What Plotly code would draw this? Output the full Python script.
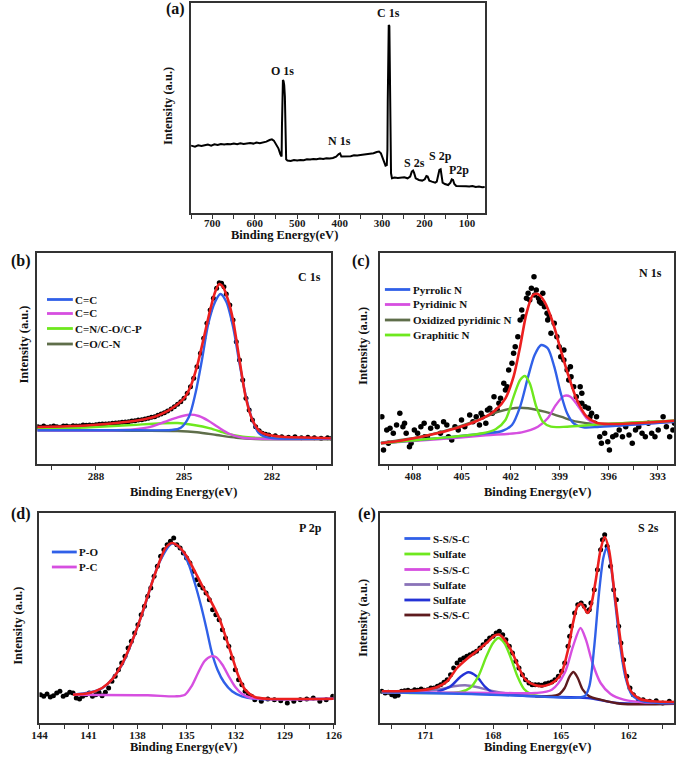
import plotly.graph_objects as go

W, H = 685, 762
SERIF = "Liberation Serif"

# ---------------- (a) survey spectrum: (binding energy, intensity) ----------------
survey = [
    (750.0, 67.7), (740.8, 66.7), (733.2, 68.0), (725.5, 67.3), (717.9, 68.0), (710.2, 68.7),
    (702.6, 67.7), (695.0, 69.0), (687.3, 68.3), (679.7, 69.3), (672.0, 68.7), (664.4, 69.3),
    (656.7, 69.0), (649.1, 69.7), (641.4, 69.0), (633.8, 70.0), (626.1, 69.3), (618.5, 70.0),
    (610.9, 70.3), (603.2, 69.7), (595.6, 70.7), (587.9, 70.0), (580.3, 70.7), (572.6, 71.7),
    (565.0, 73.3), (559.6, 74.0), (555.0, 72.7), (549.7, 69.3), (544.3, 65.0), (539.8, 59.3),
    (536.7, 56.7), (535.9, 86.7), (535.2, 130.0), (533.6, 133.3), (532.1, 132.3), (530.6, 128.3),
    (529.0, 116.7), (528.3, 103.3), (527.5, 73.3), (526.0, 54.0), (522.9, 52.7), (515.3, 52.3),
    (507.6, 53.3), (500.0, 52.7), (492.4, 53.3), (484.7, 53.0), (477.1, 54.0), (469.4, 53.7),
    (461.8, 54.3), (454.1, 54.0), (446.5, 54.7), (438.8, 54.3), (431.2, 55.0), (423.5, 54.7),
    (415.9, 55.3), (408.3, 56.7), (402.1, 59.3), (399.1, 60.0), (396.0, 56.7), (389.1, 56.7),
    (381.5, 57.3), (373.9, 57.0), (366.2, 58.0), (358.6, 57.7), (350.9, 58.3), (343.3, 58.7),
    (335.6, 59.0), (328.0, 59.3), (320.3, 60.0), (312.7, 61.3), (307.3, 61.7), (302.8, 60.0),
    (298.9, 55.0), (295.1, 50.0), (292.0, 47.7), (289.0, 48.3), (287.5, 63.3), (286.7, 113.3),
    (285.9, 163.3), (285.2, 183.3), (284.4, 188.3), (282.9, 187.3), (282.1, 146.7), (281.3, 96.7),
    (280.6, 53.3), (279.0, 40.0), (276.8, 35.0), (270.6, 35.7), (263.0, 35.3), (255.4, 35.3),
    (247.7, 36.0), (240.1, 35.0), (233.9, 36.7), (230.1, 41.7), (227.1, 42.7), (224.8, 40.7),
    (220.9, 35.0), (213.3, 33.3), (205.7, 32.7), (199.5, 34.0), (195.7, 37.3), (192.7, 36.7),
    (188.8, 32.7), (182.7, 31.7), (175.1, 30.7), (171.3, 31.7), (168.2, 36.7), (165.1, 43.3),
    (162.1, 44.0), (159.8, 38.3), (157.5, 30.7), (152.1, 29.3), (144.5, 28.3), (139.1, 30.7),
    (136.0, 34.0), (133.0, 33.3), (129.9, 29.3), (125.4, 27.3), (117.7, 27.3), (110.1, 27.7),
    (102.4, 27.0), (94.8, 26.7), (87.2, 27.3), (79.5, 26.3), (71.9, 26.7), (64.2, 26.0), (58.1, 26.3),
]

# ---------------- (b) C 1s ----------------
c1s_data = [
    (289.98, 37.3), (289.89, 36.7), (289.78, 38.0), (289.67, 36.7), (289.56, 37.3), (289.44, 38.0),
    (289.33, 37.3), (289.22, 36.7), (289.11, 38.0), (289.00, 38.0), (288.89, 37.3), (288.78, 38.3),
    (288.67, 38.0), (288.56, 38.0), (288.44, 39.0), (288.33, 38.7), (288.22, 39.0), (288.11, 38.7),
    (288.00, 39.3), (287.89, 39.7), (287.78, 40.0), (287.67, 40.0), (287.56, 40.3), (287.44, 40.7),
    (287.33, 41.0), (287.22, 41.3), (287.11, 41.7), (287.00, 42.0), (286.89, 42.3), (286.78, 43.0),
    (286.67, 43.3), (286.56, 44.0), (286.44, 44.3), (286.33, 45.0), (286.22, 45.7), (286.11, 46.7),
    (286.00, 47.3), (285.89, 48.7), (285.78, 50.0), (285.67, 51.3), (285.56, 53.0), (285.44, 55.0),
    (285.33, 57.3), (285.22, 59.7), (285.11, 62.3), (285.00, 65.7), (284.89, 70.7), (284.78, 77.3),
    (284.67, 85.7), (284.56, 97.3), (284.44, 110.7), (284.33, 125.7), (284.22, 140.7), (284.11, 154.0),
    (284.00, 165.7), (283.89, 175.7), (283.80, 181.3), (283.72, 180.7), (283.64, 177.3), (283.56, 170.0),
    (283.44, 159.0), (283.33, 144.0), (283.22, 122.3), (283.11, 104.0), (283.00, 84.0), (282.89, 65.7),
    (282.78, 54.0), (282.67, 44.0), (282.56, 37.3), (282.44, 33.3), (282.33, 30.7), (282.22, 29.7),
    (282.11, 29.0), (281.89, 28.3), (281.67, 27.3), (281.44, 26.7), (281.22, 27.3), (281.00, 26.3),
    (280.78, 26.7), (280.56, 26.3), (280.33, 25.7), (280.11, 26.3), (279.97, 25.7),
]
c1s_fit = [
    (290.0, 37.0), (289.0, 37.7), (288.0, 39.3), (287.0, 42.0), (286.5, 44.0), (286.0, 47.3),
    (285.67, 51.3), (285.33, 57.3), (285.0, 65.7), (284.78, 77.3), (284.56, 97.3), (284.33, 125.7),
    (284.11, 154.0), (283.94, 172.0), (283.8, 180.0), (283.67, 177.0), (283.5, 164.0), (283.33, 144.0),
    (283.11, 104.0), (282.89, 65.7), (282.67, 44.0), (282.44, 33.3), (282.22, 29.7), (281.67, 27.3),
    (280.5, 26.3), (279.97, 25.7),
]
c1s_cc = [
    (290.0, 33.7), (286.56, 33.7), (285.44, 34.0), (285.11, 36.3), (284.83, 47.3), (284.61, 70.7),
    (284.39, 104.0), (284.17, 140.7), (283.94, 162.3), (283.76, 170.0), (283.56, 162.3), (283.33, 137.3),
    (283.11, 100.7), (282.89, 67.3), (282.67, 44.0), (282.44, 30.7), (282.11, 26.3), (279.97, 25.7),
]
c1s_cc2 = [
    (290.0, 33.7), (287.11, 34.0), (286.22, 36.7), (285.67, 42.0), (285.22, 46.7), (284.83, 49.3),
    (284.5, 48.0), (284.17, 43.3), (283.83, 36.7), (283.44, 30.0), (283.0, 26.3), (279.97, 25.3),
]
c1s_cn = [
    (290.0, 35.0), (288.22, 36.7), (286.78, 39.0), (285.78, 40.7), (285.22, 41.0), (284.67, 39.0),
    (284.11, 35.7), (283.56, 30.7), (283.0, 27.3), (282.33, 26.0), (279.97, 25.3),
]
c1s_co = [
    (290.0, 33.7), (286.56, 33.3), (285.22, 33.0), (284.56, 31.7), (283.89, 29.0), (283.22, 26.3),
    (282.56, 25.0), (279.97, 24.7),
]

# ---------------- (c) N 1s ----------------
n1s_data = [
    (409.90, 47.3), (409.80, 14.0), (409.60, 34.0), (409.50, 20.7), (409.40, 35.7), (409.20, 30.7),
    (409.00, 39.0), (408.80, 50.7), (408.61, 37.3), (408.51, 40.7), (408.41, 30.7), (408.21, 17.3),
    (408.11, 20.7), (407.91, 34.0), (407.71, 30.7), (407.51, 37.3), (407.31, 40.7), (407.27, 27.3),
    (407.11, 27.3), (406.91, 35.7), (406.71, 40.7), (406.51, 37.3), (406.31, 30.7), (406.12, 42.3),
    (405.92, 39.0), (405.82, 27.3), (405.62, 24.0), (405.42, 37.3), (405.22, 34.0), (405.02, 44.0),
    (404.82, 37.3), (404.52, 49.0), (404.32, 42.3), (404.12, 47.3), (403.92, 39.0), (403.82, 50.7),
    (403.73, 47.3), (403.53, 40.7), (403.43, 54.0), (403.29, 55.7), (403.13, 50.7), (403.03, 67.3),
    (402.83, 54.0), (402.73, 60.7), (402.63, 65.7), (402.43, 80.7), (402.33, 74.0), (402.23, 77.3),
    (402.13, 94.0), (401.93, 100.7), (401.83, 110.7), (401.73, 117.3), (401.57, 127.3), (401.43, 144.0),
    (401.33, 154.0), (401.24, 147.3), (401.04, 165.7), (400.94, 170.7), (400.84, 164.0), (400.74, 175.7),
    (400.58, 187.3), (400.54, 169.0), (400.44, 174.0), (400.30, 165.7), (400.24, 162.3), (400.14, 160.7),
    (400.04, 170.7), (399.94, 157.3), (399.78, 150.7), (399.74, 144.0), (399.64, 147.3), (399.54, 130.7),
    (399.34, 140.7), (399.18, 127.3), (399.04, 117.3), (398.94, 107.3), (398.75, 104.0), (398.75, 114.0),
    (398.55, 94.0), (398.45, 84.0), (398.35, 97.3), (398.31, 87.3), (398.15, 77.3), (397.99, 67.3),
    (397.85, 60.7), (397.75, 77.3), (397.65, 60.7), (397.65, 70.7), (397.45, 57.3), (397.25, 55.7),
    (397.15, 47.3), (397.05, 50.7), (396.85, 40.7), (396.75, 47.3), (396.55, 27.3), (396.45, 20.7),
    (396.25, 30.7), (396.06, 22.3), (395.96, 14.0), (395.76, 27.3), (395.56, 29.0), (395.36, 34.0),
    (395.16, 27.3), (394.96, 37.3), (394.76, 29.0), (394.56, 20.7), (394.36, 34.0), (394.16, 37.3),
    (393.96, 30.7), (393.76, 27.3), (393.57, 40.7), (393.37, 30.7), (393.17, 27.3), (392.97, 34.0),
    (392.67, 47.3), (392.47, 37.3), (392.27, 27.3), (392.07, 34.0), (391.97, 40.7),
]
n1s_fit = [
    (409.96, 20.7), (408.51, 24.0), (406.51, 30.7), (404.92, 38.0), (403.73, 45.7), (402.93, 54.0),
    (402.33, 65.7), (401.83, 87.3), (401.43, 117.3), (401.04, 150.7), (400.64, 169.0), (400.34, 170.0),
    (399.94, 162.3), (399.44, 142.3), (398.94, 114.0), (398.45, 87.3), (397.95, 64.0), (397.35, 47.3),
    (396.75, 41.3), (395.96, 40.0), (394.56, 40.7), (391.97, 43.3),
]
n1s_pyrrolic = [
    (409.96, 20.7), (406.51, 25.7), (403.53, 30.7), (402.53, 33.0), (401.93, 39.0), (401.43, 57.3),
    (400.94, 87.3), (400.54, 109.0), (400.14, 119.0), (399.74, 115.7), (399.34, 97.3), (398.94, 70.7),
    (398.55, 50.7), (398.15, 40.7), (397.55, 36.7), (396.55, 37.3), (391.97, 42.3),
]
n1s_pyridinic = [
    (409.96, 20.7), (406.51, 24.7), (403.53, 28.7), (401.33, 31.7), (400.34, 37.3), (399.74, 45.7),
    (399.24, 59.0), (398.75, 68.0), (398.35, 67.3), (397.85, 57.3), (397.35, 45.7), (396.75, 39.7),
    (395.96, 38.7), (391.97, 42.3),
]
n1s_oxidized = [
    (409.96, 21.3), (407.51, 27.3), (405.52, 35.7), (403.92, 44.7), (402.73, 52.3), (401.73, 56.0),
    (400.94, 55.7), (399.94, 52.3), (398.94, 47.3), (397.95, 42.3), (396.75, 40.0), (394.56, 41.3),
    (391.97, 43.3),
]
n1s_graphitic = [
    (409.96, 20.7), (406.51, 25.7), (403.73, 30.7), (402.93, 34.7), (402.33, 44.0), (401.83, 67.3),
    (401.43, 84.0), (401.14, 88.0), (400.84, 80.7), (400.44, 57.3), (400.04, 42.3), (399.54, 37.3),
    (398.55, 37.3), (396.55, 39.7), (391.97, 43.3),
]

# ---------------- (d) P 2p ----------------
p2p_data = [
    (143.94, 28.3), (143.74, 26.7), (143.54, 29.0), (143.34, 26.0), (143.15, 27.3), (142.95, 30.0),
    (142.75, 31.7), (142.55, 26.7), (142.35, 28.3), (142.15, 30.7), (141.95, 30.0), (141.75, 25.0),
    (141.55, 24.0), (141.36, 26.7), (141.16, 28.3), (140.96, 30.0), (140.76, 26.7), (140.56, 28.3),
    (140.36, 30.7), (140.17, 27.3), (139.97, 30.7), (139.77, 35.0), (139.57, 41.7), (139.37, 46.7),
    (139.17, 53.3), (138.97, 60.0), (138.77, 66.7), (138.58, 75.0), (138.38, 81.7), (138.18, 90.0),
    (137.98, 98.3), (137.78, 108.3), (137.58, 116.7), (137.38, 126.7), (137.19, 135.0), (136.99, 146.7),
    (136.79, 156.7), (136.59, 166.7), (136.39, 173.3), (136.19, 178.3), (135.99, 181.7), (135.79, 185.0),
    (135.60, 178.3), (135.40, 175.0), (135.20, 170.0), (135.00, 165.0), (134.80, 160.0), (134.60, 151.7),
    (134.40, 143.3), (134.20, 138.3), (134.01, 135.0), (133.81, 130.0), (133.61, 123.3), (133.41, 113.3),
    (133.21, 108.3), (133.01, 103.3), (132.81, 93.3), (132.62, 85.0), (132.42, 76.7), (132.22, 65.0),
    (132.02, 53.3), (131.82, 43.3), (131.62, 38.3), (131.42, 31.7), (131.22, 28.3), (131.03, 26.7),
    (130.83, 23.3), (130.43, 21.7), (130.03, 24.0), (129.63, 23.3), (129.24, 22.3), (128.84, 20.0),
    (128.44, 21.7), (128.05, 23.3), (127.65, 24.0), (127.25, 25.0), (126.85, 21.7), (126.46, 23.3),
    (126.06, 26.7),
]
p2p_fit = [
    (141.95, 28.3), (140.96, 30.0), (140.17, 35.0), (139.57, 43.3), (138.97, 58.3), (138.38, 80.0),
    (137.78, 106.7), (137.19, 136.7), (136.69, 160.0), (136.29, 175.0), (135.89, 180.0), (135.50, 176.7),
    (135.0, 166.7), (134.50, 151.7), (134.01, 136.0), (133.51, 121.7), (133.01, 105.0), (132.62, 86.7),
    (132.22, 66.7), (131.82, 46.7), (131.42, 33.3), (130.83, 26.0), (130.03, 24.3), (126.0, 24.3),
]
p2p_po = [
    (141.95, 28.3), (140.17, 34.7), (138.97, 57.7), (137.78, 106.3), (136.69, 159.7), (135.89, 179.3),
    (135.40, 175.0), (134.90, 160.0), (134.50, 140.0), (134.11, 116.7), (133.77, 93.3), (133.45, 70.0),
    (133.11, 53.3), (132.71, 40.7), (132.22, 31.7), (131.62, 26.7), (130.83, 24.3), (126.0, 24.3),
]
p2p_pc = [
    (141.95, 28.3), (137.38, 27.7), (135.60, 26.7), (135.10, 28.3), (134.70, 36.7), (134.30, 50.0),
    (133.91, 61.7), (133.51, 66.7), (133.21, 66.0), (132.81, 58.3), (132.42, 46.7), (132.02, 36.0),
    (131.62, 29.3), (131.03, 25.0), (126.0, 24.3),
]

# ---------------- (e) S 2s ----------------
s2s_data = [
    (172.93, 31.7), (172.78, 30.0), (172.64, 30.7), (172.49, 28.3), (172.35, 26.7), (172.21, 27.7),
    (172.06, 31.7), (171.92, 32.3), (171.77, 32.7), (171.63, 31.7), (171.48, 33.3), (171.34, 32.7),
    (171.19, 34.0), (171.05, 32.7), (170.90, 33.3), (170.76, 35.0), (170.62, 35.0), (170.47, 36.7),
    (170.33, 38.3), (170.18, 40.7), (170.04, 43.3), (169.89, 48.3), (169.75, 55.0), (169.60, 60.0),
    (169.46, 63.3), (169.31, 65.0), (169.17, 66.7), (169.03, 68.3), (168.88, 70.0), (168.74, 71.7),
    (168.59, 75.0), (168.45, 78.3), (168.30, 81.7), (168.16, 85.0), (168.01, 86.7), (167.87, 90.0),
    (167.73, 91.7), (167.58, 88.3), (167.44, 83.3), (167.29, 76.7), (167.15, 70.0), (167.00, 61.7),
    (166.86, 55.0), (166.71, 48.3), (166.57, 43.3), (166.42, 40.0), (166.28, 38.3), (166.14, 38.3),
    (165.99, 38.3), (165.85, 37.7), (165.70, 39.3), (165.56, 40.0), (165.41, 41.0), (165.27, 43.3),
    (165.12, 46.7), (164.98, 51.7), (164.84, 60.0), (164.69, 76.7), (164.62, 86.7), (164.55, 96.7),
    (164.40, 110.0), (164.26, 118.3), (164.11, 120.0), (163.97, 116.7), (163.82, 111.7), (163.75, 113.3),
    (163.68, 120.0), (163.53, 133.3), (163.39, 153.3), (163.25, 173.3), (163.17, 183.3), (163.07, 188.3),
    (162.96, 176.7), (162.81, 156.7), (162.67, 133.3), (162.55, 123.3), (162.45, 96.7), (162.35, 80.0),
    (162.23, 63.3), (162.09, 46.7), (161.95, 35.0), (161.80, 28.3), (161.58, 24.0), (161.37, 23.3),
    (161.08, 21.7), (160.79, 22.3), (160.50, 20.0), (160.21, 21.7), (159.92, 20.7),
]
s2s_fit = [
    (172.93, 31.7), (171.19, 32.7), (170.47, 36.0), (170.04, 41.7), (169.60, 55.0), (169.17, 64.0),
    (168.74, 71.7), (168.30, 80.0), (167.94, 87.3), (167.73, 88.3), (167.44, 81.7), (167.15, 70.0),
    (166.86, 55.0), (166.57, 43.3), (166.14, 37.7), (165.70, 37.3), (165.27, 41.7), (164.98, 50.0),
    (164.69, 73.3), (164.47, 100.0), (164.26, 117.3), (164.11, 119.3), (163.97, 115.0), (163.82, 110.0),
    (163.68, 116.7), (163.46, 143.3), (163.25, 173.3), (163.07, 186.0), (162.88, 173.3), (162.67, 136.7),
    (162.45, 96.7), (162.23, 60.0), (161.95, 33.3), (161.51, 24.0), (160.93, 21.7), (159.92, 21.0),
]
s2s_ss1 = [
    (172.93, 30.7), (168.97, 29.0), (166.14, 26.7), (163.97, 26.7), (163.75, 36.7), (163.53, 76.7),
    (163.32, 130.0), (163.13, 165.0), (162.99, 175.0), (162.81, 160.0), (162.60, 120.0), (162.38, 76.7),
    (162.16, 46.7), (161.87, 28.3), (161.37, 21.7), (159.92, 20.0),
]
s2s_sulf1 = [
    (172.93, 30.7), (169.46, 31.0), (169.03, 35.0), (168.66, 46.7), (168.30, 66.7), (168.01, 80.0),
    (167.77, 85.0), (167.51, 80.0), (167.22, 65.0), (166.93, 46.7), (166.64, 34.0), (166.28, 28.3),
    (165.85, 26.7),
]
s2s_ss2 = [
    (172.93, 30.7), (167.58, 30.0), (166.14, 30.0), (165.41, 33.3), (164.84, 50.0), (164.47, 76.7),
    (164.14, 95.0), (163.90, 83.3), (163.61, 60.0), (163.25, 40.0), (162.81, 29.0), (162.23, 23.3),
    (161.37, 20.7), (159.92, 20.0),
]
s2s_sulf2 = [
    (172.93, 30.7), (170.47, 33.3), (169.75, 36.7), (169.24, 37.7), (168.74, 36.0), (168.16, 32.7),
    (167.29, 29.3), (166.14, 27.3),
]
s2s_sulf3 = [
    (170.47, 31.0), (169.89, 36.7), (169.46, 46.0), (169.10, 50.7), (168.74, 46.7), (168.38, 36.7),
    (168.01, 30.7), (167.29, 28.3), (166.14, 26.7), (163.82, 25.0), (162.52, 20.0), (159.92, 19.3),
]
s2s_ss3 = [
    (166.14, 26.7), (165.12, 28.3), (164.84, 35.0), (164.62, 46.7), (164.45, 51.0), (164.26, 45.0),
    (164.04, 33.3), (163.75, 26.7), (163.25, 23.3), (162.38, 19.3), (159.92, 19.3),
]

# ---------------- styling ----------------
BLUE = "#3060e8"
MAGENTA = "#d64fe0"
LIME = "#6ee81e"
OLIVE = "#5f6e4a"
RED = "#ec1f1f"
LAVENDER = "#8a73b8"
NAVY = "#2433d6"
BROWN = "#5e1b1e"
AXC = "#333333"

# plot boxes in pixels: left, top, right, bottom
boxes = {
    "a": (187.7, 2.7, 489.0, 213.3),
    "b": (30.0, 253.3, 331.0, 464.0),
    "c": (381.7, 253.3, 683.0, 464.0),
    "d": (32.3, 512.7, 334.0, 723.0),
    "e": (381.7, 512.7, 683.0, 723.0),
}
xranges = {"a": [750, 58], "b": [290, 280], "c": [410, 392], "d": [144, 126], "e": [173, 160]}
xtick = {"a": (100, 100, 50), "b": (282, 3, 1.5), "c": (393, 3, 1.5), "d": (126, 3, 1.5), "e": (162, 3, 1.5)}
label_shift = {"a": -5, "b": -3, "c": -3, "d": -3, "e": -3}
keys = ["a", "b", "c", "d", "e"]

fig = go.Figure()


def add(points, idx, color, width=2.4, mode="lines", size=5, shape="spline"):
    xs = [p[0] for p in points]
    ys = [p[1] for p in points]
    suf = "" if idx == 1 else str(idx)
    if mode == "markers":
        fig.add_trace(go.Scatter(x=xs, y=ys, mode="markers", xaxis="x" + suf, yaxis="y" + suf,
                                 marker=dict(color="black", size=size), showlegend=False, hoverinfo="skip"))
    else:
        fig.add_trace(go.Scatter(x=xs, y=ys, mode="lines", xaxis="x" + suf, yaxis="y" + suf,
                                 line=dict(color=color, width=width, shape=shape, smoothing=0.8),
                                 showlegend=False, hoverinfo="skip"))


# (a)
add(survey, 1, "black", width=2.0, shape="linear")
# (b)
add(c1s_data, 2, None, mode="markers", size=5)
add(c1s_co, 2, OLIVE)
add(c1s_cn, 2, LIME)
add(c1s_cc2, 2, MAGENTA)
add(c1s_cc, 2, BLUE)
add(c1s_fit, 2, RED, width=2.6)
# (c)
add(n1s_data, 3, None, mode="markers", size=5.5)
add(n1s_oxidized, 3, OLIVE)
add(n1s_pyridinic, 3, MAGENTA)
add(n1s_pyrrolic, 3, BLUE)
add(n1s_graphitic, 3, LIME)
add(n1s_fit, 3, RED, width=2.6)
# (d)
add(p2p_data, 4, None, mode="markers", size=5)
add(p2p_po, 4, BLUE)
add(p2p_pc, 4, MAGENTA)
add(p2p_fit, 4, RED, width=2.6)
# (e)
add(s2s_data, 5, None, mode="markers", size=5)
add(s2s_sulf2, 5, LAVENDER)
add(s2s_sulf3, 5, NAVY)
add(s2s_sulf1, 5, LIME)
add(s2s_ss3, 5, BROWN)
add(s2s_ss2, 5, MAGENTA)
add(s2s_ss1, 5, BLUE)
add(s2s_fit, 5, RED, width=2.6)

layout = dict(width=W, height=H, margin=dict(l=0, r=0, t=0, b=0),
              paper_bgcolor="white", plot_bgcolor="white", showlegend=False)

tickfont = dict(family=SERIF, size=11, color="#1a1a1a", weight="bold")
for i, k in enumerate(keys, start=1):
    l, t, r, b = boxes[k]
    suf = "" if i == 1 else str(i)
    t0, dt, mdt = xtick[k]
    layout["xaxis" + suf] = dict(
        domain=[l / W, r / W], anchor="y" + suf, range=xranges[k],
        showline=True, linecolor=AXC, linewidth=1.5, mirror=True,
        ticks="outside", ticklen=4, tickwidth=1.2, tickcolor=AXC,
        tick0=t0, dtick=dt, showgrid=False, zeroline=False, tickfont=tickfont,
        ticklabelstandoff=label_shift[k],
        minor=dict(ticks="outside", ticklen=4, tickwidth=1.2, tickcolor=AXC, dtick=mdt, tick0=t0, showgrid=False),
    )
    layout["yaxis" + suf] = dict(
        domain=[1 - b / H, 1 - t / H], anchor="x" + suf, range=[0, b - t],
        showline=True, linecolor=AXC, linewidth=1.5, mirror=True,
        showticklabels=False, ticks="", showgrid=False, zeroline=False,
    )

annotations = []
shapes = []


def ann(text, x, y, size, angle=0, anchor="center"):
    annotations.append(dict(text=text, x=x / W, y=1 - y / H, xref="paper", yref="paper",
                            showarrow=False, textangle=angle, xanchor=anchor, yanchor="middle",
                            font=dict(family=SERIF, size=size, color="#111", weight="bold")))


# panel letters
for txt, x, y in [("(a)", 172, 9), ("(b)", 13, 261), ("(c)", 362, 261), ("(d)", 13, 514), ("(e)", 368, 514)]:
    ann(txt, x, y, 16)

# axis titles
for x, y in [(284, 235), (180, 492), (543, 492), (180, 747), (543, 747)]:
    ann("Binding Energy(eV)", x, y, 12.5)
for x, y in [(164, 106), (16, 345), (364, 346), (10, 626), (364, 618)]:
    ann("Intensity (a.u.)", x, y, 12.5, angle=-90)

# survey peak labels
for txt, x, y in [("O 1s", 281, 71), ("N 1s", 340, 141), ("C 1s", 390, 13), ("S 2s", 417, 163),
                  ("S 2p", 444, 156), ("P2p", 462, 170)]:
    ann(txt, x, y, 12)

# panel titles
for txt, x, y in [("C 1s", 309, 277), ("N 1s", 659, 273), ("P 2p", 310, 528), ("S 2s", 657, 528)]:
    ann(txt, x, y, 12)


def legend(entries, x0, x1, ys):
    for (label, color), y in zip(entries, ys):
        shapes.append(dict(type="line", xref="paper", yref="paper", x0=x0 / W, x1=x1 / W,
                           y0=1 - y / H, y1=1 - y / H, line=dict(color=color, width=2.8)))
        ann(label, x1 + 0.5, y, 11, anchor="left")


legend([("C=C", BLUE), ("C=C", MAGENTA), ("C=N/C-O/C-P", LIME), ("C=O/C-N", OLIVE)],
       40, 66.5, [299.5, 313.5, 328.5, 344])
legend([("Pyrrolic N", BLUE), ("Pyridinic N", MAGENTA), ("Oxidized pyridinic N", OLIVE), ("Graphitic N", LIME)],
       386.5, 412.5, [289.5, 304.5, 320, 335])
legend([("P-O", BLUE), ("P-C", MAGENTA)], 45, 70.5, [552, 567])
legend([("S-S/S-C", BLUE), ("Sulfate", LIME), ("S-S/S-C", MAGENTA), ("Sulfate", LAVENDER),
        ("Sulfate", NAVY), ("S-S/S-C", BROWN)],
       406.5, 433, [538.5, 554, 569.5, 584.5, 600, 615])

layout["annotations"] = annotations
layout["shapes"] = shapes
fig.update_layout(**layout)
# remove the default page margin so the figure sits at the window origin
fig.write_html("out.html", config={"displayModeBar": False},
               post_script="document.body.style.margin='0';document.body.style.overflow='hidden';")
